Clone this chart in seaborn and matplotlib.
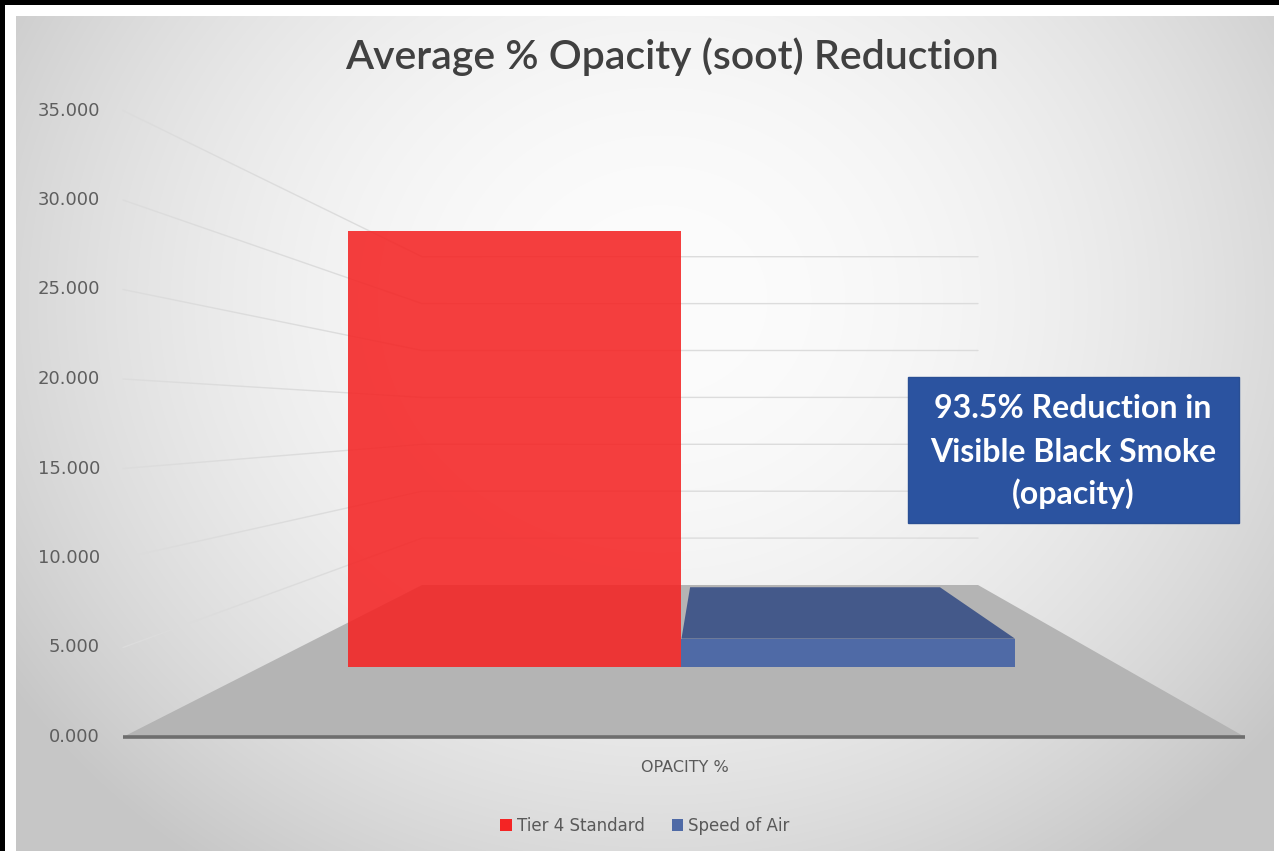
import numpy as np
import pandas as pd
import matplotlib
matplotlib.use("Agg")
import matplotlib.pyplot as plt
from matplotlib.patches import Polygon, Rectangle
import seaborn as sns

# ---- data -------------------------------------------------------------
category = ["OPACITY %"]
series = ["Tier 4 Standard", "Speed of Air"]
values = [31.2, 2.03]
series_colors = ["#f42424", "#4f6aa6"]
y_ticks = [0, 5, 10, 15, 20, 25, 30, 35]
tick_labels = [f"{v:.3f}" for v in y_ticks]
title = "Average % Opacity (soot) Reduction"
note_lines = ["93.5% Reduction in", "Visible Black Smoke", "(opacity)"]

df = pd.DataFrame({"category": category * len(series),
                   "series": series,
                   "value": values})

# ---- canvas / pseudo-3D layout (pixel units) ---------------------------
W, H = 1279, 851
FLOOR_FRONT_Y, FLOOR_BACK_Y = 737.0, 585.0      # floor edges
FRONT_SCALE, BACK_SCALE = 17.9, 9.38            # px per unit at front / back wall
FLOOR_X = (123.0, 1245.0)                       # floor front edge, left / right
VX = 715.8                                      # vanishing x
K_BACK = 0.4955                                 # width shrink at back wall
T_BAR_FRONT, T_BAR_BACK = 0.4605, 0.842         # depth of the bar row
CAT_SPAN = (236.7, 1105.5)                      # category span on the floor front
Y_MAX = 35


def shrink(t):
    return 1.0 - (1.0 - K_BACK) * t


def project(xw, v, t):
    """Map a world point (front-plane x, value, depth 0..1) to pixels."""
    x = VX + (xw - VX) * shrink(t)
    y = (FLOOR_FRONT_Y + (FLOOR_BACK_Y - FLOOR_FRONT_Y) * t
         - v * (FRONT_SCALE + (BACK_SCALE - FRONT_SCALE) * t))
    return x, y


sns.set_theme(style="white")
plt.rcParams["font.family"] = ["Lato", "DejaVu Sans"]

fig = plt.figure(figsize=(W / 100, H / 100), dpi=100, facecolor="black")
ax = fig.add_axes([0, 0, 1, 1])
ax.set_xlim(0, W)
ax.set_ylim(H, 0)
ax.axis("off")

# white mat and soft radial background
ax.add_patch(Rectangle((5, 5), W - 5, H - 5, facecolor="white", edgecolor="none", zorder=0))
yy, xx = np.mgrid[16:H, 16:1274]
r2 = ((xx - 660) / 740.0) ** 2 + ((yy - 300) / 660.0) ** 2
shade = np.clip(252 - 48 * r2, 198, 252) / 255.0
ax.imshow(np.dstack([shade, shade, shade]), extent=(16, 1274, H, 16),
          origin="upper", aspect="auto", zorder=1, interpolation="bilinear")

# floor
floor = [project(FLOOR_X[0], 0, 0), project(FLOOR_X[1], 0, 0),
         project(FLOOR_X[1], 0, 1), project(FLOOR_X[0], 0, 1)]
ax.add_patch(Polygon(floor, closed=True, facecolor="#b4b4b4", edgecolor="none", zorder=2))

# side-wall and back-wall gridlines
for v in y_ticks[1:]:
    p0 = project(FLOOR_X[0], v, 0)
    p1 = project(FLOOR_X[0], v, 1)
    p2 = project(FLOOR_X[1], v, 1)
    ax.plot([p0[0], p1[0], p2[0]], [p0[1], p1[1], p2[1]],
            color="#dcdcdc", lw=1.0, zorder=2)

# floor front edge
f0, f1 = project(FLOOR_X[0], 0, 0), project(FLOOR_X[1], 0, 0)
ax.plot([f0[0], f1[0]], [f0[1], f1[1]], color="#6e6e6e", lw=2.6,
        solid_capstyle="butt", zorder=3)

# value labels along the front edge of the side wall
for v, lab in zip(y_ticks, tick_labels):
    x, y = project(FLOOR_X[0], v, 0)
    ax.text(x - 23, y, lab, ha="right", va="center", fontsize=13,
            family="DejaVu Sans", color="#5e5e5e", zorder=4)

# ---- bars (front faces) ----------------------------------------------
kf = shrink(T_BAR_FRONT)
left_px = VX + (CAT_SPAN[0] - VX) * kf
right_px = VX + (CAT_SPAN[1] - VX) * kf
_, base_px = project(CAT_SPAN[0], 0, T_BAR_FRONT)
scale_f = FRONT_SCALE + (BACK_SCALE - FRONT_SCALE) * T_BAR_FRONT

bar_ax = fig.add_axes([left_px / W, (H - base_px) / H,
                       (right_px - left_px) / W, Y_MAX * scale_f / H])
sns.barplot(data=df, x="category", y="value", hue="series", hue_order=series,
            palette=series_colors, width=1, saturation=1, linewidth=0,
            edgecolor="none", ax=bar_ax)
bar_ax.set_xlim(-0.5, 0.5)
bar_ax.set_ylim(0, Y_MAX)
bar_ax.axis("off")
for bar in bar_ax.containers[0]:
    bar.set_alpha(0.88)

# top face of the short bar, projected back to the rear of the bar row
to_main = ax.transData.inverted()
for bar in bar_ax.containers[1]:
    x0, v = bar.get_x(), bar.get_height()
    x1 = x0 + bar.get_width()
    (fx0, fy), (fx1, _) = to_main.transform(bar_ax.transData.transform([(x0, v), (x1, v)]))
    wx0 = VX + (fx0 - VX) / kf
    wx1 = VX + (fx1 - VX) / kf
    top = [(fx0, fy), (fx1, fy), project(wx1, v, T_BAR_BACK), project(wx0, v, T_BAR_BACK)]
    ax.add_patch(Polygon(top, closed=True, facecolor="#44598a", edgecolor="none", zorder=3))

# legend
sns.move_legend(bar_ax, "center", bbox_to_anchor=(645 / W, 25 / H),
                bbox_transform=fig.transFigure, ncol=2, frameon=False, title=None,
                prop={"family": "DejaVu Sans", "size": 12}, labelcolor="#595959",
                handlelength=0.7, handleheight=0.7, handletextpad=0.3,
                columnspacing=1.6)

# title and axis caption
ax.text(672, 57, title, ha="center", va="center", fontsize=29.5,
        fontweight="semibold", color="#404040", zorder=5)
ax.text(685, 768, category[0], ha="center", va="center", fontsize=11.5,
        family="DejaVu Sans", color="#595959", zorder=5)

# call-out box
ax.add_patch(Rectangle((908, 377), 331, 146, facecolor="#2b53a0",
                       edgecolor="#2a4f94", lw=1, zorder=6))
for yl, line in zip([409, 452, 494], note_lines):
    ax.text(1073, yl, line, ha="center", va="center", fontsize=23,
            fontweight="bold", color="white", zorder=7)

fig.savefig("out.png", dpi=100, facecolor=fig.get_facecolor())
